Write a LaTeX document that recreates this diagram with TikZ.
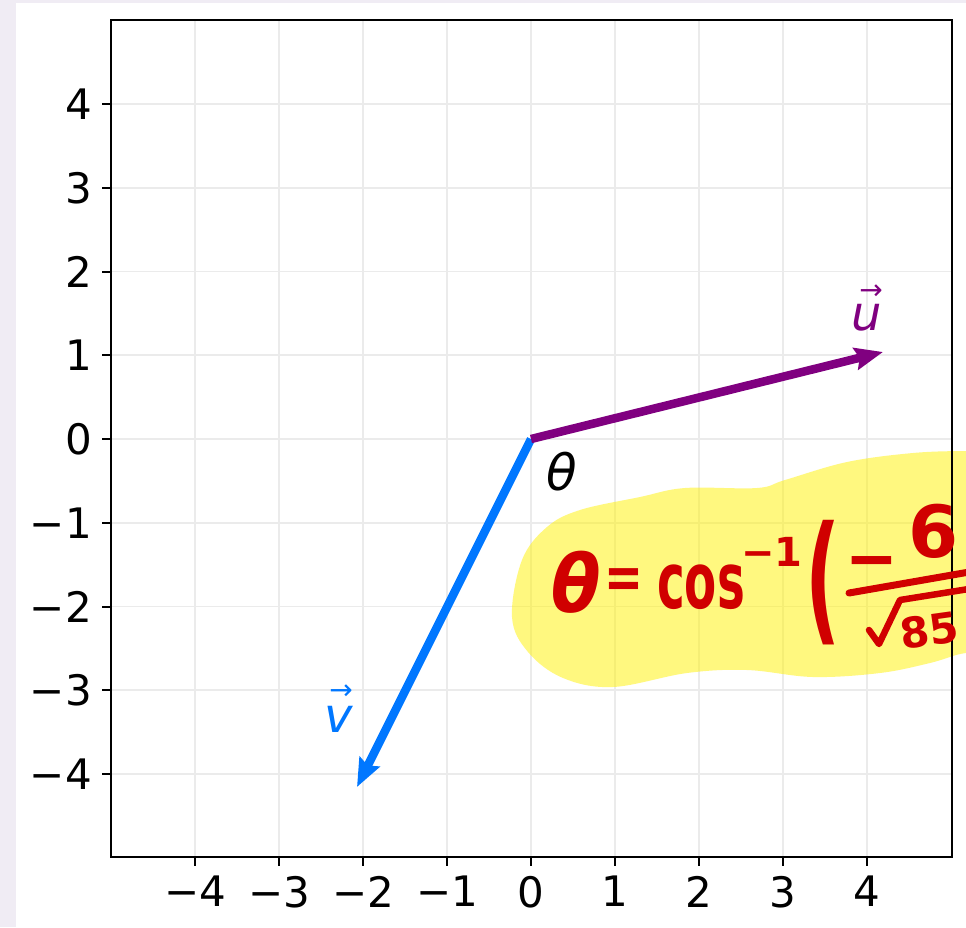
\documentclass[tikz,border=0pt]{standalone}
\usepackage{fontspec}
\setmainfont{DejaVu Sans}
\usetikzlibrary{arrows.meta}
\definecolor{lav}{HTML}{F0ECF4}
\definecolor{gridc}{HTML}{EBEBEB}
\definecolor{upurple}{HTML}{800080}
\definecolor{vblue}{HTML}{0077FF}
\definecolor{hred}{HTML}{D00000}
\tikzset{
 gridline/.style={gridc, line width=1.8pt},
 frameline/.style={black, line width=2.4pt},
 tickmark/.style={black, line width=2pt},
 ticklab/.style={inner sep=0pt, font=\fontsize{42}{50}\selectfont},
 vecarrow/.style={line width=8.5pt, -{Stealth[length=28pt,width=22pt,inset=4pt]}},
 hw/.style={hred, inner sep=0pt},
 hwline/.style={hred, line width=7pt, line cap=round, line join=round},
 veclab/.style={inner sep=0pt, font=\fontsize{48}{56}\selectfont\itshape},
 vecarr/.style={inner sep=0pt, font=\fontsize{28}{28}\selectfont},
}
\begin{document}
\begin{tikzpicture}[x=1pt,y=-1pt]
\useasboundingbox (0,0) rectangle (966,927);
\clip (0,0) rectangle (966,927);
\fill[lav] (0,0) rectangle (966,927);
\fill[white] (16,3) rectangle (966,927);
% grid and ticks
\foreach \i in {-4,...,4}{
  \draw[gridline] ({531+84*\i},20) -- ({531+84*\i},857);
  \draw[gridline] (111,{439-83.75*\i}) -- (952,{439-83.75*\i});
  \draw[tickmark] ({531+84*\i},857) -- ({531+84*\i},866);
  \draw[tickmark] (102,{439-83.75*\i}) -- (111,{439-83.75*\i});
}
\foreach \i/\t in {-4/{−4},-3/{−3},-2/{−2},-1/{−1},0/0,1/1,2/2,3/3,4/4}{
  \node[ticklab, anchor=north] (xl\i) at ({531+84*\i},876) {\t};
  \node[ticklab, anchor=east] (yl\i) at (92,{439-83.75*\i}) {\t};
}
% highlighter
\fill[yellow, opacity=0.5] plot[smooth cycle, tension=0.6] coordinates {
 (512,617) (522,560) (547,527) (580,510) (640,497) (685,488) (757,488)
 (785,480) (847,462) (913,453) (966,451) (1000,452) (1000,655) (966,653)
 (930,663) (880,673) (813,677) (747,670) (687,673) (613,687) (563,678) (528,652)};
% frame
\draw[frameline] (111,20) rectangle (952,857);
% vectors
\coordinate (O) at (531,439);
\coordinate (U) at (883,352);
\coordinate (V) at (357,787);
\draw[vecarrow, vblue] (O) -- (V);
\draw[vecarrow, upurple] (O) -- (U);
% labels
\node[veclab, upurple] (ulab) at (867,318) {u};
\node[vecarr, upurple] (uarr) at (871,292) {→};
\node[veclab, vblue] (vlab) at (339,719) {v};
\node[vecarr, vblue] (varr) at (341,692) {→};
\node[inner sep=0pt, font=\fontsize{50}{60}\selectfont\itshape] (theta) at (562,472) {θ};
% handwritten formula
\node[hw, font=\fontsize{80}{90}\selectfont\bfseries\itshape, xscale=0.9] (hth) at (576,582) {θ};
\node[hw, font=\fontsize{62}{70}\selectfont\bfseries, xscale=0.75] (heq) at (624,584) {=};
\node[hw, font=\fontsize{78}{90}\selectfont\bfseries, xscale=0.6] (hcos) at (701,587) {cos};
\node[hw, font=\fontsize{40}{48}\selectfont\bfseries] (hexp) at (772,552) {−1};
\node[hw, font=\fontsize{140}{150}\selectfont\bfseries, xscale=0.55] (hpar) at (823,583) {(};
\node[hw, font=\fontsize{70}{80}\selectfont\bfseries, xscale=0.9] (hmin) at (872,570) {−};
\node[hw, font=\fontsize{72}{80}\selectfont\bfseries] (hsix) at (934,531) {6};
\node[hw, font=\fontsize{42}{50}\selectfont\bfseries, rotate=8] (hden) at (929,630) {85};
\draw[hwline] (849,593) -- (975,571);
\draw[hwline, line width=6.5pt] (869,630) -- (879,644) -- (900,600) -- (975,588);
\end{tikzpicture}
\end{document}
